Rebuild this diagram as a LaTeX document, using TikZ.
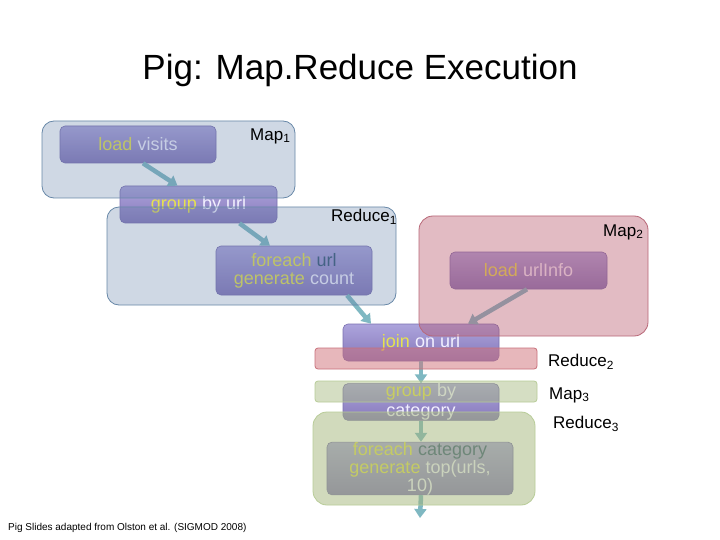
\documentclass[tikz,border=0pt]{standalone}
\usepackage{fontspec}
\setmainfont{Liberation Sans}
\usetikzlibrary{arrows.meta,calc}
\definecolor{nodetop}{HTML}{ACA4DC}
\definecolor{nodebot}{HTML}{8678BA}
\definecolor{nodebd}{HTML}{7A70B0}
\definecolor{kw}{HTML}{E6E24E}
\definecolor{lt}{HTML}{F2F0FF}
\definecolor{sl}{HTML}{385878}
\definecolor{flowc}{HTML}{7FB8C2}
\definecolor{ovblue}{HTML}{627EA6}
\definecolor{bdblue}{HTML}{6888A8}
\definecolor{ovpink}{HTML}{B7576B}
\definecolor{bdpink}{HTML}{B86878}
\definecolor{ovred}{HTML}{D17179}
\definecolor{bdred}{HTML}{C8707A}
\definecolor{ovgreen}{HTML}{A4B67A}
\definecolor{bdgreen}{HTML}{B8CC98}
\tikzset{
  opnode/.style={rounded corners=5pt, draw=nodebd, line width=0.6pt,
    top color=nodetop, bottom color=nodebot, align=center, text=lt,
    font=\fontsize{18}{18}\selectfont, inner sep=0pt},
  flow/.style={line width=4.5pt, draw=flowc,
    -{Triangle[width=12pt,length=9pt]}},
  lbl/.style={anchor=west, font=\fontsize{17}{20}\selectfont, inner sep=0pt},
  ovl/.style={line width=0.8pt, fill opacity=#1},
}
\begin{document}
\begin{tikzpicture}[x=1pt,y=-1pt]
\path[use as bounding box, fill=white] (0,0) rectangle (720,540);
% title
\node[font=\fontsize{35}{40}\selectfont] (title) at (360,70) {Pig: Map.Reduce Execution};
% operator nodes
\node[opnode, minimum width=156pt, minimum height=37pt] (lv) at (138,144.5)
  {\textcolor{kw}{load} visits};
\node[opnode, minimum width=157pt, minimum height=37pt] (gu) at (198.5,204.5)
  {\textcolor{kw}{group} by url};
\node[opnode, minimum width=156pt, minimum height=49pt] (fu) at (294,270.5)
  {\textcolor{kw}{foreach} \textcolor{sl}{url}\\\textcolor{kw}{generate} count};
\node[opnode, minimum width=157pt, minimum height=37pt] (li) at (528.5,270.5)
  {\textcolor{kw}{load} urlInfo};
\node[opnode, minimum width=156pt, minimum height=37pt] (jo) at (421,342.5)
  {\textcolor{kw}{join} on url};
\node[opnode, minimum width=156pt, minimum height=36pt, font=\fontsize{18}{20}\selectfont] (gc) at (421,402)
  {\textcolor{kw}{group} by\\category};
\node[opnode, minimum width=186pt, minimum height=49pt] (fc) at (420,468.5)
  {\textcolor{kw}{foreach} \textcolor{sl}{category}\\\textcolor{kw}{generate} top(urls,\\10)};
\coordinate (out) at (420,518);
% flows
\draw[flow] ($(lv.south)+(5,0)$) -- ($(gu.north)+(-21,0)$);
\draw[flow] ($(gu.south)+(41,0)$) -- ($(fu.north)+(-24,0)$);
\draw[flow] ($(fu.south)+(53,0)$) -- ($(jo.north)+(-50,0)$);
\draw[flow] ($(li.south)+(-1.5,0)$) -- ($(jo.north)+(47,0)$);
\draw[flow] (jo.south) -- (gc.north);
\draw[flow] (gc.south) -- (gc.south |- fc.north);
\draw[flow] (gc.south |- fc.south) -- (out);
% phase overlays
\path[ovl=0.3, fill=ovblue, draw=bdblue, rounded corners=12pt] (42,121) rectangle (295,198);
\path[ovl=0.3, fill=ovblue, draw=bdblue, rounded corners=12pt] (107,207) rectangle (396,305);
\path[ovl=0.4, fill=ovpink, draw=bdpink, rounded corners=14pt] (419,216) rectangle (648,336);
\path[ovl=0.5, fill=ovred, draw=bdred, rounded corners=3pt] (315,348) rectangle (537,369);
\path[ovl=0.45, fill=ovgreen, draw=bdgreen, rounded corners=3pt] (315,381) rectangle (537,402);
\path[ovl=0.5, fill=ovgreen, draw=bdgreen, rounded corners=14pt] (313,412) rectangle (535,505);
% phase labels
\node[lbl] (m1) at (250,136) {Map\textsubscript{1}};
\node[lbl] (r1) at (331,217) {Reduce\textsubscript{1}};
\node[lbl] (m2) at (603,232) {Map\textsubscript{2}};
\node[lbl] (r2) at (548,362) {Reduce\textsubscript{2}};
\node[lbl] (m3) at (549,395) {Map\textsubscript{3}};
\node[lbl] (r3) at (553,424) {Reduce\textsubscript{3}};
% footer
\node[anchor=west, font=\fontsize{10}{12}\selectfont, inner sep=0pt] (foot) at (8,528)
  {Pig Slides adapted from Olston et al. (SIGMOD 2008)};
\end{tikzpicture}
\end{document}
